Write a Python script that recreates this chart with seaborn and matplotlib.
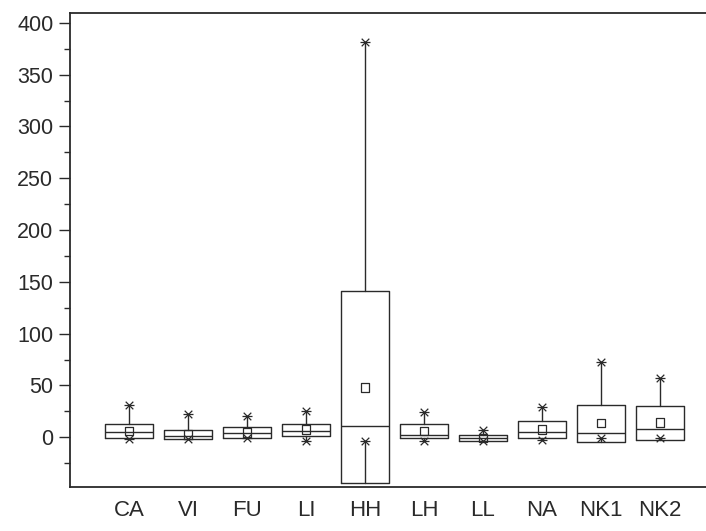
"""
Box chart per class: box = mean +/- SD, line = median, square = mean,
whiskers out to min / max.
"""
import matplotlib
matplotlib.use("Agg")
import matplotlib.pyplot as plt
from matplotlib.ticker import MultipleLocator
import seaborn as sns
import numpy as np
import pandas as pd

# values
classes = ['CA', 'VI', 'FU', 'LI', 'HH', 'LH', 'LL', 'NA', 'NK1', 'NK2']
means = [5.95, 2.55, 4.65, 7.25, 48.3, 5.95, -0.65, 7.55, 13.7, 14.2]
sds = [6.95, 4.55, 5.65, 5.65, 92.7, 6.95, 3.25, 8.55, 17.9, 16.4]
medians = [4.8, 1.5, 3.9, 6.5, 10.6, 2.6, -1.0, 4.8, 4.2, 8.1]
maxs = [31.6, 22.0, 21.0, 25.0, 382.0, 24.0, 7.1, 29.0, 72.5, 57.0]
mins = [-1.3, -1.5, -1.0, -3.2, -3.2, -3.2, -4.0, -2.5, -1.0, -0.6]

y_ticks = list(range(0, 401, 50))

sns.set_style("ticks")
plt.rcParams['font.family'] = ['Liberation Sans', 'DejaVu Sans']

ink = '#2a2a2a'
pos = np.arange(len(classes))

df = pd.DataFrame({'pos': pos, 'mean': means, 'sd': sds, 'median': medians,
                   'max': maxs, 'min': mins})

fig = plt.figure(figsize=(7.06, 5.31), dpi=100)
ax = fig.add_axes([70 / 706, 1 - 487 / 531, 649 / 706, (487 - 12.5) / 531])

# boxes: mean +/- SD, median line, whiskers to min / max
stats = []
for _, r in df.iterrows():
    stats.append({
        'q1': r['mean'] - r['sd'], 'q3': r['mean'] + r['sd'],
        'med': r['median'], 'whislo': r['min'], 'whishi': r['max'],
        'fliers': [],
    })
ax.bxp(stats, positions=pos, widths=0.81, showcaps=False, showfliers=False,
       boxprops=dict(color=ink, linewidth=1.0),
       medianprops=dict(color=ink, linewidth=1.0),
       whiskerprops=dict(color=ink, linewidth=1.0))

# mean squares
sns.scatterplot(data=df, x='pos', y='mean', ax=ax, marker='s', s=38,
                facecolor='none', edgecolor=ink, linewidth=0.9, zorder=4)

# min / max markers (x with a bar)
ext = pd.concat([df[['pos', 'max']].rename(columns={'max': 'v'}),
                 df[['pos', 'min']].rename(columns={'min': 'v'})])
sns.scatterplot(data=ext, x='pos', y='v', ax=ax, marker='x', s=30,
                color=ink, linewidth=0.9, zorder=4)
sns.scatterplot(data=ext, x='pos', y='v', ax=ax, marker='_', s=45,
                color=ink, linewidth=0.9, zorder=4)

ax.set_xlim(-1, 10)
ax.set_ylim(-48, 410)
ax.set_xticks(pos)
ax.set_xticklabels(classes, fontsize=16)
ax.set_yticks(y_ticks)
ax.set_yticklabels([str(t) for t in y_ticks], fontsize=15.5)
ax.yaxis.set_minor_locator(MultipleLocator(25))
ax.tick_params(axis='x', length=0, pad=9, colors=ink)
ax.tick_params(axis='y', which='major', length=8, width=1.0, pad=4, colors=ink)
ax.tick_params(axis='y', which='minor', length=4.5, width=1.0, colors=ink)
ax.set_xlabel('')
ax.set_ylabel('')
for s in ax.spines.values():
    s.set_color(ink)
    s.set_linewidth(1.3)
ax.spines['right'].set_visible(False)

fig.savefig('out.png', dpi=100)
